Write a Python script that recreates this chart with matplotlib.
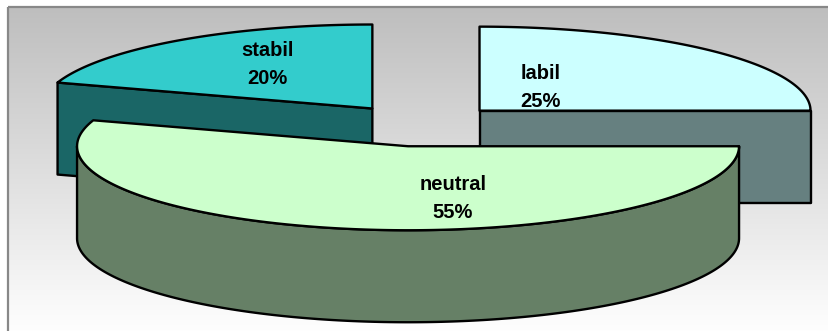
import numpy as np
import matplotlib.pyplot as plt
from matplotlib.patches import Polygon, Rectangle
from matplotlib.colors import to_rgb, LinearSegmentedColormap

# données
labels = ['labil', 'neutral', 'stabil']
values = [25, 55, 20]
top_colors = ['#CCFFFF', '#CCFFCC', '#33CCCC']

# mise en page (pixels)
W, H = 829, 331
CX, CY = 421, 125.5
RX, RY = 331, 84
DEPTH = 92
EXPLODE = 0.25
# position des étiquettes, en fraction du rayon par rapport au centre de la part
label_offsets = [(0.184, 0.38), (0.136, -0.52), (-0.317, 0.62)]
LINE_GAP = 28


def pt(cx, cy, t):
    return cx + RX * np.cos(t), cy - RY * np.sin(t)


def arc(cx, cy, a, b, dy=0, n=200):
    t = np.linspace(a, b, n)
    x, y = pt(cx, cy, t)
    return np.column_stack([x, y + dy])


fig = plt.figure(figsize=(W / 100, H / 100), dpi=100)
ax = fig.add_axes([0, 0, 1, 1])
ax.set_xlim(0, W)
ax.set_ylim(H, 0)
ax.axis('off')

# fond dégradé + cadre
grad = np.linspace(0, 1, 256).reshape(-1, 1)
cmap = LinearSegmentedColormap.from_list('bg', ['#BEBEBE', '#FFFFFF'])
ax.imshow(grad, cmap=cmap, extent=[8, W + 5, H + 5, 7], aspect='auto', zorder=0)
ax.add_patch(Rectangle((8, 7), W, H, fill=False, edgecolor='#888888', lw=1.6, zorder=1))

# construction des parts
total = sum(values)
slices = []
start = 90.0
for lab, v, col, off in zip(labels, values, top_colors, label_offsets):
    t1 = np.radians(start)
    t2 = np.radians(start - 360.0 * v / total)
    mid = (t1 + t2) / 2
    cx = CX + EXPLODE * RX * np.cos(mid)
    cy = CY - EXPLODE * RY * np.sin(mid)
    slices.append(dict(label=lab, value=v, color=col, off=off, t1=t1, t2=t2, cx=cx, cy=cy))
    start -= 360.0 * v / total

kw = dict(edgecolor='black', lw=1.7, joinstyle='round', zorder=3)

# les parts du fond d'abord
for s in sorted(slices, key=lambda d: d['cy']):
    cx, cy, t1, t2 = s['cx'], s['cy'], s['t1'], s['t2']
    side = np.array(to_rgb(s['color'])) * 0.5

    # faces radiales visibles
    for t, visible in ((t1, np.cos(t1) < -1e-9), (t2, np.cos(t2) > 1e-9)):
        if visible:
            px, py = pt(cx, cy, t)
            poly = [(cx, cy), (px, py), (px, py + DEPTH), (cx, cy + DEPTH)]
            ax.add_patch(Polygon(poly, closed=True, facecolor=side, **kw))

    # paroi extérieure (moitié avant)
    for k in (-2, -1, 0, 1):
        a = max(t2, np.radians(-180 + 360 * k))
        b = min(t1, np.radians(360 * k))
        if b > a:
            top = arc(cx, cy, a, b)
            bot = arc(cx, cy, b, a, dy=DEPTH)
            ax.add_patch(Polygon(np.vstack([top, bot]), closed=True, facecolor=side, **kw))

    # dessus
    poly = np.vstack([[(cx, cy)], arc(cx, cy, t1, t2)])
    ax.add_patch(Polygon(poly, closed=True, facecolor=s['color'], **kw))

    # étiquettes
    tx = cx + s['off'][0] * RX
    ty = cy - s['off'][1] * RY
    ax.text(tx, ty, s['label'], ha='center', va='baseline', fontsize=14.5,
            fontweight='bold', family='Liberation Sans', zorder=5)
    ax.text(tx, ty + LINE_GAP, '%d%%' % s['value'], ha='center', va='baseline',
            fontsize=14.5, fontweight='bold', family='Liberation Sans', zorder=5)

fig.savefig('out.png', dpi=100)
